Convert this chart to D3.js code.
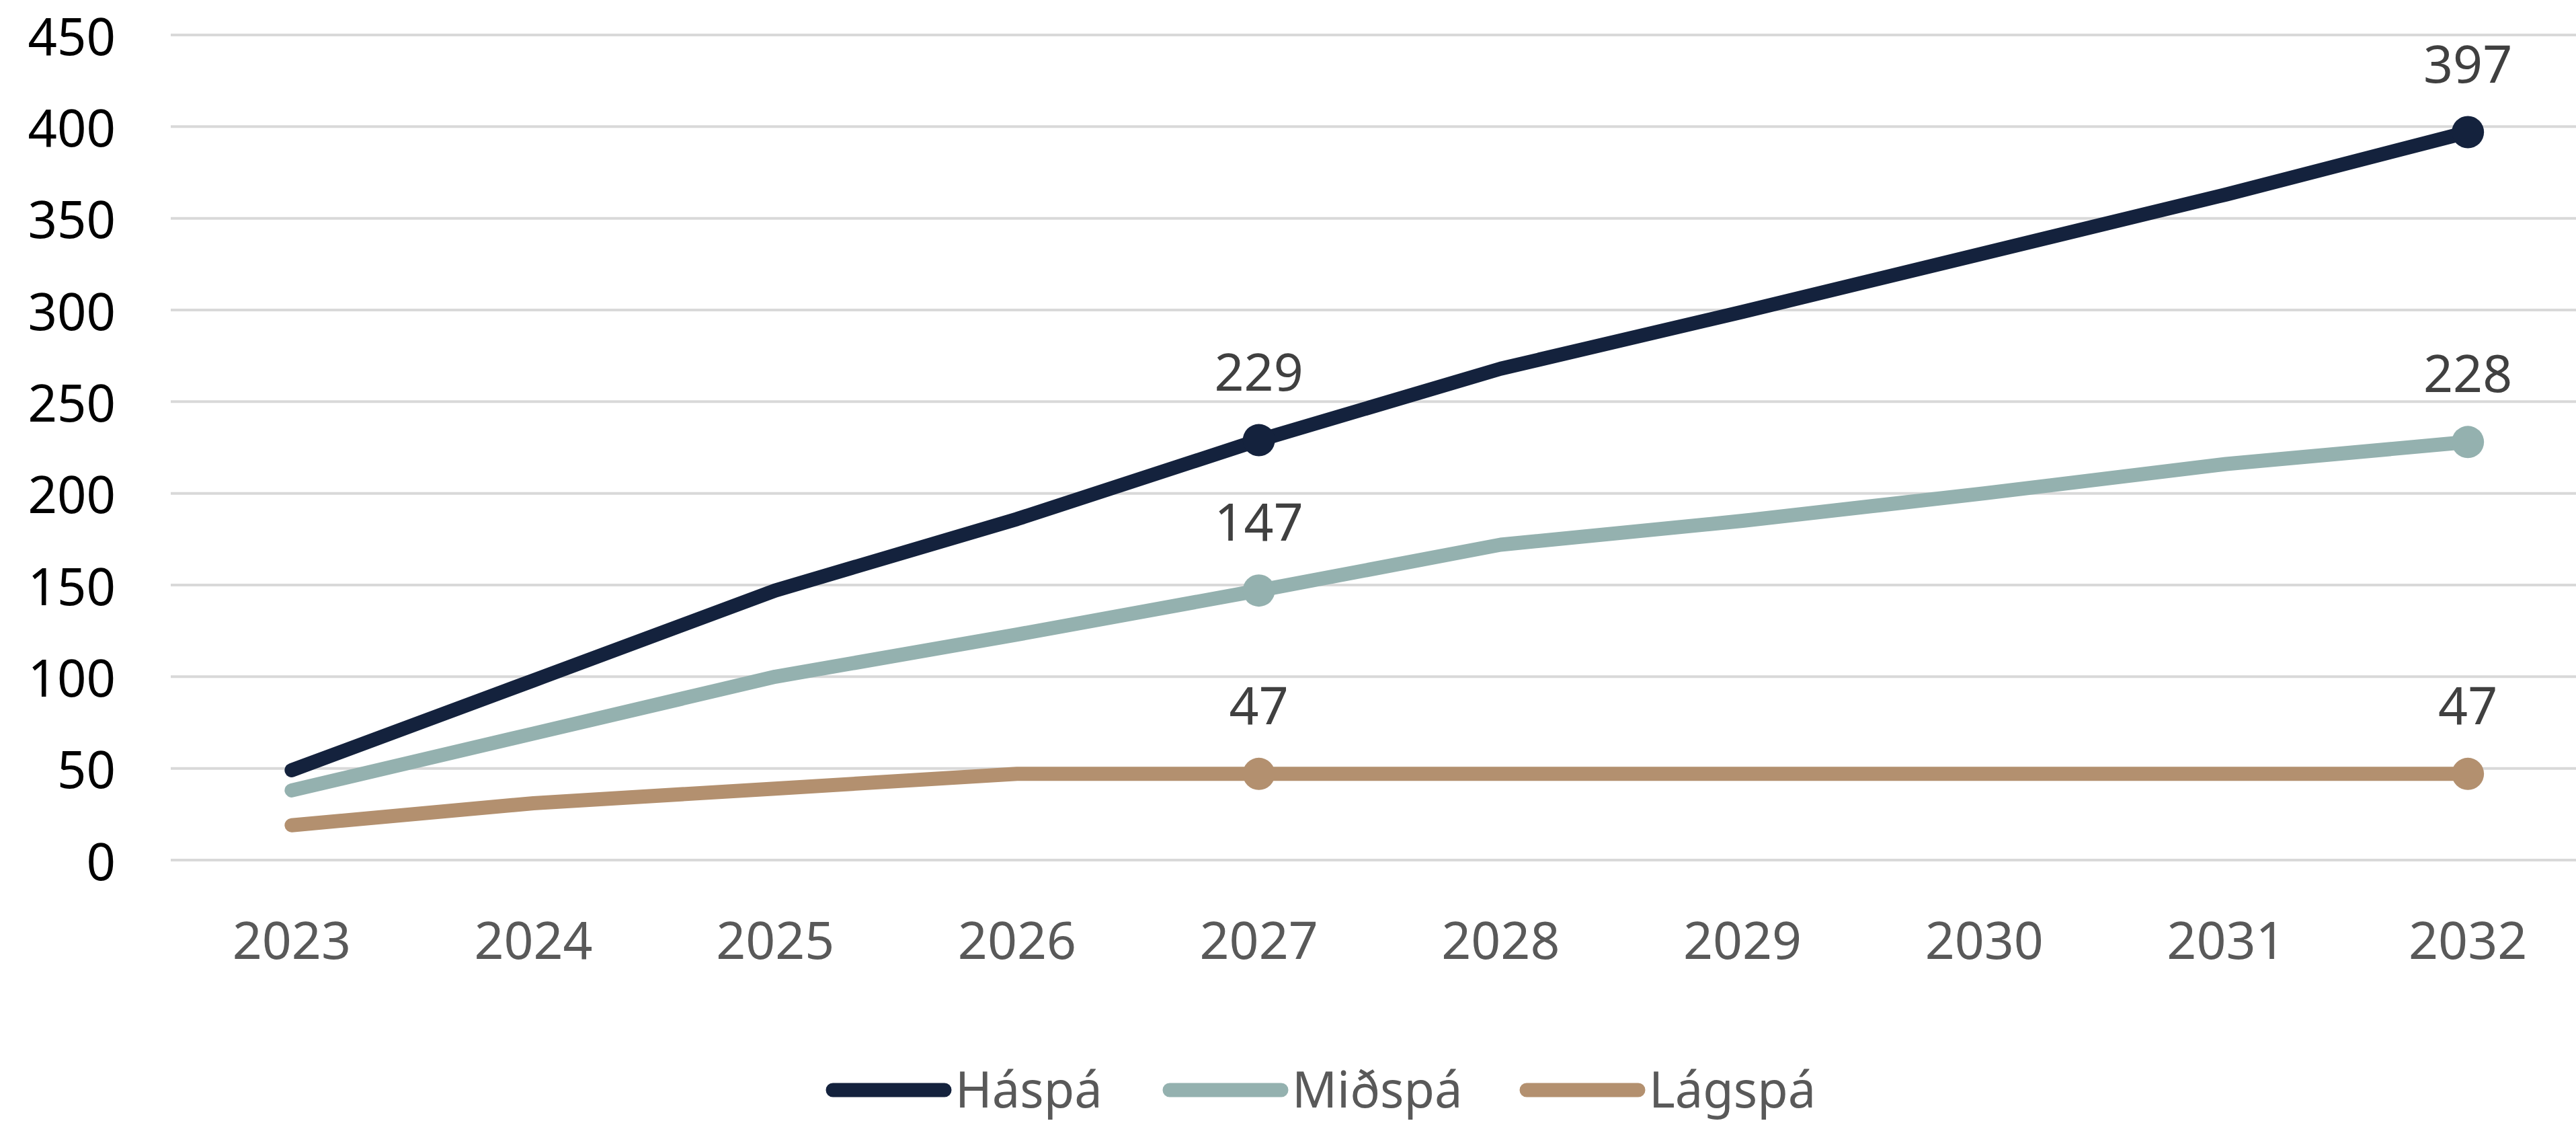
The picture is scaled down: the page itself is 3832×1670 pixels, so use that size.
<!DOCTYPE html>
<html>
<head>
<meta charset="utf-8">
<script src="https://cdn.jsdelivr.net/npm/d3@7"></script>
<style>
  body { margin: 0; background: #ffffff; }
  svg { display: block; font-family: "Noto Sans", "DejaVu Sans", sans-serif; }
</style>
</head>
<body>
<div id="chart"></div>
<script>
// data
var years = ["2023", "2024", "2025", "2026", "2027", "2028", "2029", "2030", "2031", "2032"];
var haspa = [49, 98, 147, 186, 229, 268, 299, 331, 363, 397];
var midspa = [38, 69, 100, 123, 147, 172, 185, 200, 216, 228];
var lagspa = [19, 31, 39, 47, 47, 47, 47, 47, 47, 47];
var seriesNames = ["Háspá", "Miðspá", "Lágspá"];
var yTicks = [0, 50, 100, 150, 200, 250, 300, 350, 400, 450];
// only these years get a dot and a value label
var labelYears = ["2027", "2032"];

var colors = ["#14223d", "#94b1af", "#b3906f"];
var series = [haspa, midspa, lagspa];

var W = 3832, H = 1670;
var margin = { top: 52, left: 254, bottom: 391 };
var plotRight = 3851; // last band runs a bit past the window edge

var svg = d3.select("#chart").append("svg")
  .attr("width", W)
  .attr("height", H);

var x = d3.scaleBand()
  .domain(years)
  .range([margin.left, plotRight])
  .padding(0);

var y = d3.scaleLinear()
  .domain([0, 450])
  .range([H - margin.bottom, margin.top]);

function cx(d) { return x(d) + x.bandwidth() / 2; }

// gridlines
svg.append("g")
  .selectAll("line")
  .data(yTicks)
  .enter()
  .append("line")
  .attr("x1", margin.left)
  .attr("x2", W)
  .attr("y1", d => y(d))
  .attr("y2", d => y(d))
  .style("stroke", "#d9d9d9")
  .style("stroke-width", 4);

// y axis labels
svg.append("g")
  .selectAll("text")
  .data(yTicks)
  .enter()
  .append("text")
  .attr("x", 172)
  .attr("y", d => y(d))
  .attr("text-anchor", "end")
  .attr("dominant-baseline", "central")
  .style("font-size", "76px")
  .style("fill", "#000000")
  .text(d => d);

// x axis labels
svg.append("g")
  .selectAll("text")
  .data(years)
  .enter()
  .append("text")
  .attr("x", d => cx(d))
  .attr("y", 1426)
  .attr("text-anchor", "middle")
  .style("font-size", "77px")
  .style("fill", "#595959")
  .text(d => d);

// lines
var line = d3.line()
  .x((d, i) => cx(years[i]))
  .y(d => y(d));

svg.append("g")
  .selectAll("path")
  .data(series)
  .enter()
  .append("path")
  .attr("d", d => line(d))
  .style("fill", "none")
  .style("stroke", (d, i) => colors[i])
  .style("stroke-width", 21)
  .style("stroke-linecap", "round")
  .style("stroke-linejoin", "round");

// dots + value labels
series.forEach(function (vals, s) {
  var pts = labelYears.map(function (yr) {
    return { year: yr, value: vals[years.indexOf(yr)] };
  });

  svg.append("g")
    .selectAll("circle")
    .data(pts)
    .enter()
    .append("circle")
    .attr("cx", d => cx(d.year))
    .attr("cy", d => y(d.value))
    .attr("r", 24)
    .style("fill", colors[s]);

  svg.append("g")
    .selectAll("text")
    .data(pts)
    .enter()
    .append("text")
    .attr("x", d => cx(d.year))
    .attr("y", d => y(d.value) - 74)
    .attr("text-anchor", "middle")
    .style("font-size", "77px")
    .style("fill", "#404040")
    .text(d => d.value);
});

// legend
var legendX = [1229, 1730, 2261];
var legend = svg.append("g")
  .selectAll("g")
  .data(seriesNames)
  .enter()
  .append("g")
  .attr("transform", (d, i) => "translate(" + legendX[i] + ",1621)");

legend.append("line")
  .attr("x1", 10)
  .attr("x2", 176)
  .attr("y1", 0)
  .attr("y2", 0)
  .style("stroke", (d, i) => colors[i])
  .style("stroke-width", 21)
  .style("stroke-linecap", "round");

legend.append("text")
  .attr("x", 192)
  .attr("y", 26)
  .style("font-size", "74px")
  .style("fill", "#595959")
  .text(d => d);
</script>
</body>
</html>
